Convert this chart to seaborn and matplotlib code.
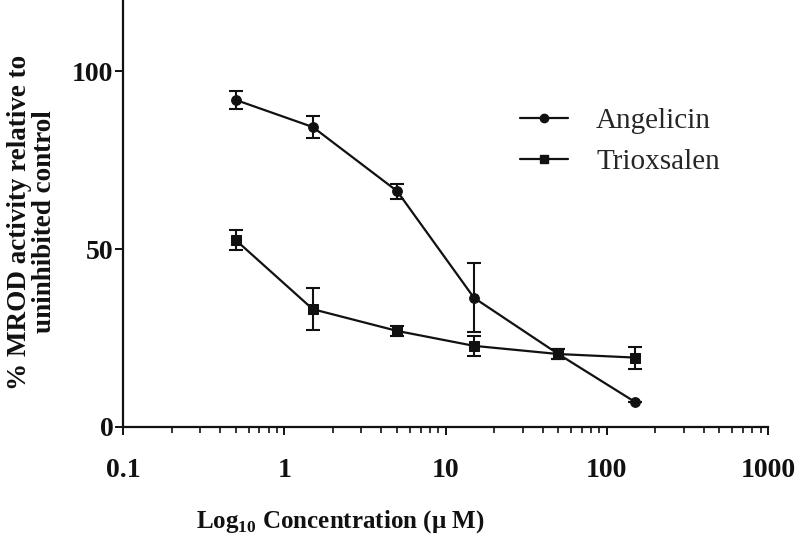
import numpy as np
import pandas as pd
import matplotlib
matplotlib.use("Agg")
import matplotlib.pyplot as plt
import seaborn as sns

# Data
concentration  = [0.5, 1.5, 5, 15, 50, 150]
angelicin      = [91.9, 84.3, 66.3, 36.3, 20.5, 7.0]
angelicinErr   = [2.5, 3.0, 2.1, 9.7, 1.5, 0.0]
trioxsalen     = [52.5, 33.1, 27.0, 22.8, 20.5, 19.5]
trioxsalenErr  = [2.9, 5.9, 1.5, 2.9, 1.5, 3.1]
seriesNames    = ["Angelicin", "Trioxsalen"]
xTicks         = [0.1, 1, 10, 100, 1000]
xTickLabels    = ["0.1", "1", "10", "100", "1000"]
yTicks         = [0, 50, 100]

sns.set_theme(style="ticks")
plt.rcParams["font.family"] = ["Liberation Serif", "DejaVu Serif"]
plt.rcParams["mathtext.fontset"] = "custom"
plt.rcParams["mathtext.rm"] = "Liberation Serif"
plt.rcParams["mathtext.bf"] = "Liberation Serif:bold"

data = pd.DataFrame({
    "conc":   concentration * 2,
    "value":  angelicin + trioxsalen,
    "err":    angelicinErr + trioxsalenErr,
    "series": [seriesNames[0]] * 6 + [seriesNames[1]] * 6,
})

figure = plt.figure(figsize=(8.0, 5.46), dpi=100)
axis   = figure.add_axes([0.154, 0.218, 0.806, 0.782])

sns.lineplot(data=data, x="conc", y="value", style="series", markers=["o", "s"],
             dashes=False, color="#111111", linewidth=1.6, markersize=7,
             markeredgecolor="#111111", ax=axis, legend=False)

for name in seriesNames:
    subset = data[data["series"] == name]
    axis.errorbar(subset["conc"], subset["value"], yerr=subset["err"], fmt="none",
                  ecolor="#111111", elinewidth=1.5, capsize=5, capthick=1.5)

axis.set_xscale("log")
axis.set_xlim(0.1, 1000)
axis.set_ylim(0, 120)
axis.set_xticks(xTicks)
axis.set_xticklabels(xTickLabels)
axis.set_yticks(yTicks)

sns.despine(ax=axis)
for side in ["left", "bottom"]:
    axis.spines[side].set_linewidth(1.6)
    axis.spines[side].set_color("#111111")
axis.tick_params(axis="both", which="major", length=6, width=1.4, color="#111111",
                 labelsize=20, pad=1)
axis.tick_params(axis="x", which="major", pad=16)
axis.tick_params(axis="x", which="minor", length=4, width=1.2, color="#111111")
for label in axis.get_xticklabels() + axis.get_yticklabels():
    label.set_fontweight("bold")
    label.set_color("#111111")

axis.set_xlabel("Log$_{\\mathbf{10}}$ Concentration (\u03bc M)", fontsize=18,
                fontweight="bold", color="#111111")
axis.xaxis.set_label_coords(0.336, -0.19)
axis.set_ylabel("% MROD activity relative to\nuninhibited control", fontsize=19.5,
                fontweight="bold", color="#111111", linespacing=1.0)
axis.yaxis.set_label_coords(-0.102, 0.48)

handles = [plt.Line2D([], [], color="#111111", marker=m, markersize=6, linewidth=1.6)
           for m in ["o", "s"]]
axis.legend(handles, seriesNames, loc="upper left", bbox_to_anchor=(0.575, 0.81),
            frameon=False, fontsize=21, handlelength=1.65, labelspacing=0.5,
            handletextpad=0.95)

figure.savefig("out.png", dpi=100)
